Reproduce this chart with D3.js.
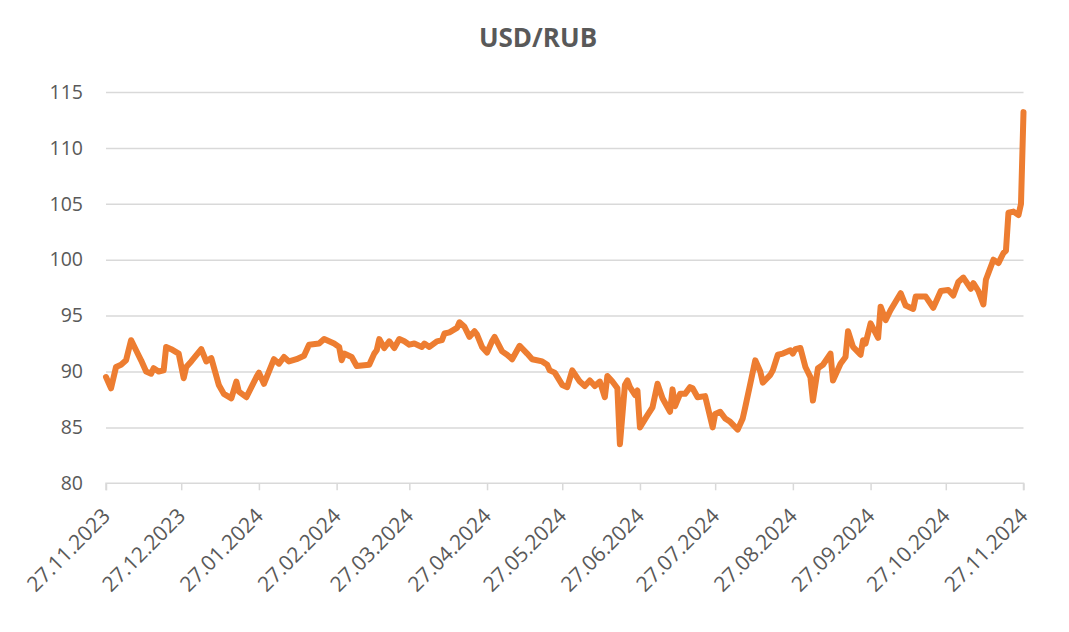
<!DOCTYPE html>
<html>
<head>
<meta charset="utf-8">
<script src="https://cdn.jsdelivr.net/npm/d3@7/dist/d3.min.js"></script>
<style>
  html, body { margin: 0; padding: 0; background: #fff; }
  svg { display: block; }
</style>
</head>
<body>
<svg id="chart" width="1069" height="632"></svg>
<script>
const title = "USD/RUB";

const dates = [
  "2023-11-27","2023-11-29","2023-12-01","2023-12-03","2023-12-05","2023-12-07","2023-12-09","2023-12-11","2023-12-13","2023-12-15",
  "2023-12-16","2023-12-18","2023-12-20","2023-12-21","2023-12-23","2023-12-26","2023-12-28","2023-12-29","2023-12-31","2024-01-04",
  "2024-01-06","2024-01-08","2024-01-11","2024-01-13","2024-01-16","2024-01-18","2024-01-19","2024-01-22","2024-01-24","2024-01-26",
  "2024-01-27","2024-01-29","2024-02-02","2024-02-04","2024-02-06","2024-02-08","2024-02-11","2024-02-14","2024-02-16","2024-02-20",
  "2024-02-22","2024-02-26","2024-02-28","2024-02-29","2024-03-01","2024-03-04","2024-03-06","2024-03-11","2024-03-13","2024-03-14",
  "2024-03-15","2024-03-17","2024-03-19","2024-03-21","2024-03-23","2024-03-25","2024-03-27","2024-03-29","2024-04-01","2024-04-02",
  "2024-04-04","2024-04-07","2024-04-09","2024-04-10","2024-04-12","2024-04-15","2024-04-16","2024-04-18","2024-04-20","2024-04-22",
  "2024-04-23","2024-04-25","2024-04-27","2024-04-29","2024-04-30","2024-05-03","2024-05-05","2024-05-07","2024-05-10","2024-05-13",
  "2024-05-15","2024-05-19","2024-05-21","2024-05-22","2024-05-24","2024-05-27","2024-05-29","2024-05-31","2024-06-03","2024-06-05",
  "2024-06-07","2024-06-09","2024-06-11","2024-06-13","2024-06-14","2024-06-16","2024-06-18","2024-06-19","2024-06-21","2024-06-22",
  "2024-06-23","2024-06-25","2024-06-26","2024-06-27","2024-06-30","2024-07-02","2024-07-04","2024-07-06","2024-07-09","2024-07-10",
  "2024-07-11","2024-07-13","2024-07-15","2024-07-17","2024-07-18","2024-07-20","2024-07-23","2024-07-26","2024-07-27","2024-07-29",
  "2024-07-31","2024-08-02","2024-08-05","2024-08-07","2024-08-08","2024-08-10","2024-08-12","2024-08-14","2024-08-15","2024-08-18",
  "2024-08-19","2024-08-21","2024-08-23","2024-08-26","2024-08-27","2024-08-28","2024-08-30","2024-09-01","2024-09-03","2024-09-04",
  "2024-09-06","2024-09-08","2024-09-11","2024-09-12","2024-09-15","2024-09-17","2024-09-18","2024-09-20","2024-09-23","2024-09-24",
  "2024-09-25","2024-09-27","2024-09-30","2024-10-01","2024-10-03","2024-10-05","2024-10-09","2024-10-11","2024-10-14","2024-10-15",
  "2024-10-19","2024-10-22","2024-10-23","2024-10-25","2024-10-28","2024-10-30","2024-11-01","2024-11-03","2024-11-06","2024-11-07",
  "2024-11-09","2024-11-11","2024-11-12","2024-11-15","2024-11-17","2024-11-19","2024-11-20","2024-11-21","2024-11-23","2024-11-25",
  "2024-11-26","2024-11-27"
];

const rates = [
  89.5,88.5,90.4,90.6,91.0,92.8,91.9,91.0,90.0,89.8,
  90.3,90.0,90.1,92.2,92.0,91.6,89.4,90.4,90.9,92.0,
  90.9,91.2,88.8,88.0,87.6,89.1,88.2,87.7,88.6,89.5,
  89.9,88.9,91.1,90.7,91.3,90.9,91.1,91.4,92.4,92.5,
  92.9,92.5,92.2,91.0,91.6,91.3,90.5,90.6,91.6,91.9,
  92.9,92.1,92.7,92.1,92.9,92.7,92.4,92.5,92.2,92.5,
  92.2,92.7,92.8,93.4,93.5,93.9,94.4,94.0,93.1,93.6,
  93.3,92.2,91.7,92.7,93.1,91.8,91.5,91.1,92.3,91.6,
  91.1,90.9,90.6,90.1,89.9,88.8,88.6,90.1,89.1,88.7,
  89.2,88.7,89.1,87.7,89.6,89.1,88.5,83.5,88.8,89.2,
  88.6,87.9,88.3,85.0,86.1,86.8,88.9,87.6,86.4,88.4,
  86.9,88.0,88.0,88.6,88.5,87.7,87.8,85.0,86.2,86.4,
  85.8,85.5,84.8,85.8,86.8,88.9,91.0,90.0,89.0,89.7,
  90.1,91.5,91.6,91.9,91.6,92.0,92.1,90.4,89.5,87.4,
  90.3,90.6,91.6,89.2,90.7,91.3,93.6,92.2,91.5,92.8,
  92.5,94.3,93.0,95.8,94.6,95.5,97.0,95.9,95.6,96.7,
  96.7,95.7,96.2,97.2,97.3,96.8,98.0,98.4,97.4,97.9,
  97.2,96.0,98.2,100.0,99.7,100.6,100.8,104.2,104.3,104.0,
  105.0,113.2
];

const xTickLabels = ["27.11.2023","27.12.2023","27.01.2024","27.02.2024","27.03.2024","27.04.2024",
  "27.05.2024","27.06.2024","27.07.2024","27.08.2024","27.09.2024","27.10.2024","27.11.2024"];
const yTicks = [80, 85, 90, 95, 100, 105, 110, 115];

const parseISO = d3.timeParse("%Y-%m-%d");
const parseDMY = d3.timeParse("%d.%m.%Y");
const data = dates.map((d, i) => ({ date: parseISO(d), value: rates[i] }));
const tickDates = xTickLabels.map(parseDMY);

const svg = d3.select("#chart");
const plotLeft = 106, plotRight = 1023.5, plotTop = 92, plotBottom = 483.3;
const font = "'Open Sans', 'Liberation Sans', sans-serif";
const textColor = "#595959";
const gridColor = "#d9d9d9";

const x = d3.scaleTime().domain([tickDates[0], tickDates[tickDates.length - 1]]).range([plotLeft, plotRight]);
const y = d3.scaleLinear().domain([80, 115]).range([plotBottom, plotTop]);

// title
svg.append("text")
  .attr("x", 538).attr("y", 46.5)
  .attr("text-anchor", "middle")
  .attr("font-family", font).attr("font-weight", "bold")
  .attr("font-size", 26).attr("fill", textColor)
  .text(title);

// y grid + labels
const yAxis = d3.axisLeft(y).tickValues(yTicks).tickSize(-(plotRight - plotLeft)).tickPadding(23);
const gy = svg.append("g").attr("transform", `translate(${plotLeft},0)`).call(yAxis);
gy.select(".domain").remove();
gy.selectAll(".tick line").attr("stroke", gridColor).attr("stroke-width", 1.5);
gy.selectAll(".tick").filter(d => d === 80).select("line").remove();
gy.selectAll(".tick text").attr("font-family", font).attr("font-size", 19.5).attr("fill", textColor);

// x axis
const xAxis = d3.axisBottom(x).tickValues(tickDates).tickSize(7).tickFormat(d3.timeFormat("%d.%m.%Y"));
const gx = svg.append("g").attr("transform", `translate(0,${plotBottom})`).call(xAxis);
gx.select(".domain").attr("stroke", gridColor).attr("stroke-width", 1.5)
  .attr("d", `M${plotLeft},7V0H${plotRight}V7`);
gx.selectAll(".tick line").attr("stroke", gridColor).attr("stroke-width", 1.5);
gx.selectAll(".tick text")
  .attr("font-family", font).attr("font-size", 21).attr("fill", textColor)
  .attr("text-anchor", "end")
  .attr("y", 0).attr("dy", 0)
  .attr("transform", "translate(5,34) rotate(-45)");

// line
const line = d3.line().x(d => x(d.date)).y(d => y(d.value));
svg.append("path")
  .datum(data)
  .attr("fill", "none")
  .attr("stroke", "#ED7D31")
  .attr("stroke-width", 6)
  .attr("stroke-linejoin", "round")
  .attr("stroke-linecap", "round")
  .attr("d", line);
</script>
</body>
</html>
